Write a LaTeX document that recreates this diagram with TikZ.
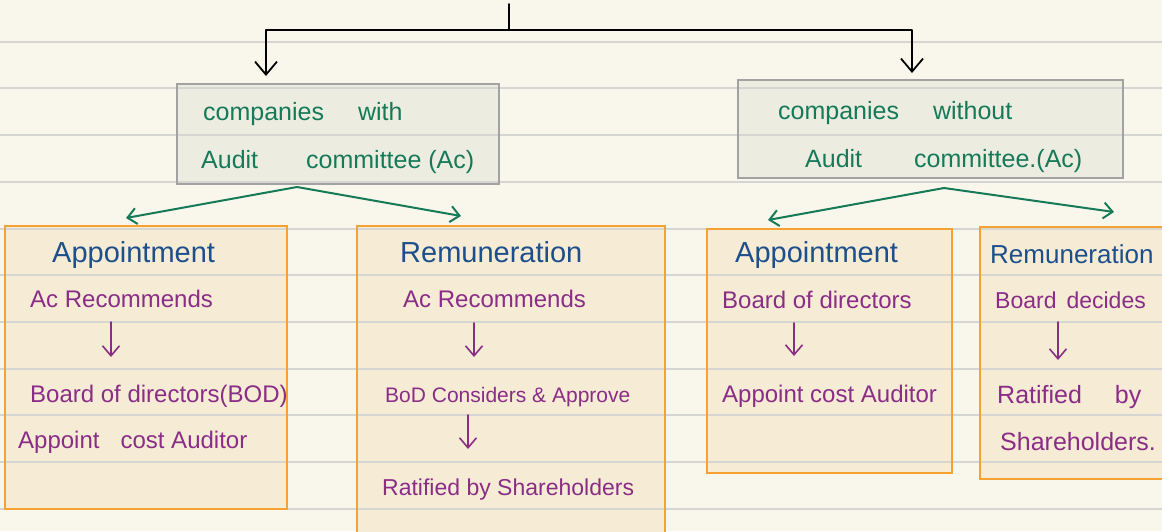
\documentclass[tikz,border=0pt]{standalone}
\usepackage{fontspec}
\setmainfont{Liberation Sans}
\usetikzlibrary{arrows.meta}

\definecolor{paper}{HTML}{F9F7EB}
\definecolor{ruleline}{HTML}{D5D5D2}
\definecolor{headfill}{HTML}{ECECE1}
\definecolor{headline}{HTML}{A2A2A0}
\definecolor{cardfill}{HTML}{F6EBD5}
\definecolor{cardline}{HTML}{F5A232}
\definecolor{inkgreen}{HTML}{167A58}
\definecolor{inkblue}{HTML}{1D4F8B}
\definecolor{inkpurple}{HTML}{8A2D86}

\begin{document}
\begin{tikzpicture}[x=1pt,y=-1pt,
  headbox/.style={fill=headfill, inner sep=0pt, outer sep=0pt, anchor=north west},
  card/.style={fill=cardfill, inner sep=0pt, outer sep=0pt, anchor=north west},
  headborder/.style={draw=headline, line width=2.4pt},
  cardborder/.style={draw=cardline, line width=2.6pt},
  greentext/.style={text=inkgreen, font=\fontsize{25}{30}\selectfont, anchor=base west, inner sep=0pt},
  title/.style={text=inkblue, font=\fontsize{29}{34}\selectfont, anchor=base west, inner sep=0pt},
  note/.style={text=inkpurple, font=\fontsize{24}{28}\selectfont, anchor=base west, inner sep=0pt},
  tree/.style={black, line width=1.8pt, line cap=round, line join=round},
  treearrow/.style={tree, -{Straight Barb[length=13pt,width=22pt,line width=1.8pt]}},
  split/.style={draw=inkgreen, line width=2pt, line cap=round, -{Straight Barb[length=9pt,width=16pt,line width=2pt]}},
  flowarrow/.style={draw=inkpurple, line width=1.6pt, line cap=round, -{Straight Barb[length=10pt,width=17pt,line width=1.6pt]}},
  ruled/.style={draw=ruleline, line width=2pt},
]
\clip (0,0) rectangle (1162,531);
\fill[paper] (0,0) rectangle (1162,531);

% box fills
\node[headbox, minimum width=322pt, minimum height=100pt] (g1) at (177,84) {};
\node[headbox, minimum width=385pt, minimum height=98pt] (g2) at (738,80) {};
\node[card, minimum width=282pt, minimum height=283pt] (a1) at (5,226) {};
\node[card, minimum width=308pt, minimum height=319pt] (r1) at (357,226) {};
\node[card, minimum width=245pt, minimum height=244pt] (a2) at (707,229) {};
\node[card, minimum width=200pt, minimum height=252pt] (r2) at (980,227) {};

% notebook rules
\foreach \k in {0,...,10} {
  \pgfmathsetmacro{\yy}{41.7+46.7*\k}
  \draw[ruled] (0,\yy) -- (1162,\yy);
}

% box outlines
\draw[headborder] (g1.north west) rectangle (g1.south east);
\draw[headborder] (g2.north west) rectangle (g2.south east);
\draw[cardborder] (a1.north west) rectangle (a1.south east);
\draw[cardborder] (r1.north west) rectangle (r1.south east);
\draw[cardborder] (a2.north west) rectangle (a2.south east);
\draw[cardborder] (r2.north west) rectangle (r2.south east);

% top split
\coordinate (root) at (509,4);
\coordinate (fork) at (509,30);
\draw[tree] (root) -- (fork);
\draw[treearrow, shorten >=8pt] (fork) -| ([xshift=89pt]g1.north west);
\draw[treearrow, shorten >=7pt] (fork) -| ([xshift=174pt]g2.north west);

% headings
\node[greentext] (g1a) at (203,120) {companies\hspace{34pt}with};
\node[greentext] (g1b) at (201,168) {Audit\hspace{48pt}committee (Ac)};
\node[greentext] (g2a) at (778,119) {companies\hspace{34pt}without};
\node[greentext] (g2b) at (805,167) {Audit\hspace{52pt}committee.(Ac)};

% green branches
\draw[split] ([xshift=-41pt,yshift=-3pt]g1.south) -- ([xshift=-20pt,yshift=8pt]a1.north);
\draw[split] ([xshift=-41pt,yshift=-3pt]g1.south) -- ([xshift=-50pt,yshift=10pt]r1.north);
\draw[split] ([xshift=13.5pt,yshift=-10pt]g2.south) -- ([xshift=-61.5pt,yshift=9pt]a2.north);
\draw[split] ([xshift=13.5pt,yshift=-10pt]g2.south) -- ([xshift=34pt,yshift=15pt]r2.north);

% appointment, with audit committee
\node[title] (a1t) at (52,262) {Appointment};
\node[note] (a1a) at (30,307) {Ac Recommends};
\node[note] (a1b) at (30,402) {Board of directors(BOD)};
\node[note] (a1c) at (18,448) {Appoint\hspace{21pt}cost Auditor};
\draw[flowarrow] ([xshift=81pt,yshift=-15pt]a1a.base west) -- ([xshift=81pt,yshift=45pt]a1b.base west);

% remuneration, with audit committee
\node[title] (r1t) at (400,262) {Remuneration};
\node[note] (r1a) at (403,307) {Ac Recommends};
\node[note, font=\fontsize{21}{25}\selectfont] (r1b) at (385,402) {BoD Considers \& Approve};
\node[note, font=\fontsize{23}{27}\selectfont] (r1c) at (382,495) {Ratified by Shareholders};
\draw[flowarrow] ([xshift=71pt,yshift=-16pt]r1a.base west) -- ([xshift=89pt,yshift=45pt]r1b.base west);
\draw[flowarrow] ([xshift=83pt,yshift=-13pt]r1b.base west) -- ([xshift=86pt,yshift=46pt]r1c.base west);

% appointment, without audit committee
\node[title] (a2t) at (735,262) {Appointment};
\node[note] (a2a) at (722,308) {Board of directors};
\node[note] (a2b) at (722,402) {Appoint cost Auditor};
\draw[flowarrow] ([xshift=72pt,yshift=-15pt]a2a.base west) -- ([xshift=72pt,yshift=46pt]a2b.base west);

% remuneration, without audit committee
\node[title, font=\fontsize{26}{31}\selectfont] (r2t) at (990,263) {Remuneration};
\node[note, font=\fontsize{23}{27}\selectfont] (r2a) at (995,308) {Board\hspace{10pt}decides};
\node[note, font=\fontsize{25}{29}\selectfont] (r2b) at (997,403) {Ratified\hspace{33pt}by};
\node[note, font=\fontsize{25}{29}\selectfont] (r2c) at (1000,450) {Shareholders.};
\draw[flowarrow] ([xshift=63pt,yshift=-14pt]r2a.base west) -- ([xshift=61pt,yshift=43pt]r2b.base west);
\end{tikzpicture}
\end{document}
